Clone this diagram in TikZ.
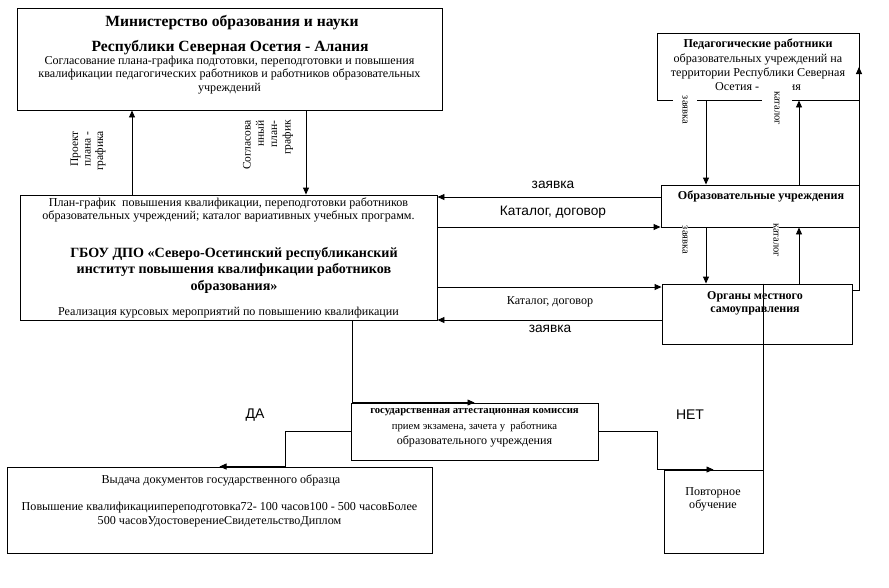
\documentclass[tikz,border=0pt]{standalone}
\usepackage{fontspec}
\setmainfont{Liberation Serif}
\newfontfamily\arialfont{Liberation Sans}
\usetikzlibrary{arrows.meta, positioning}
\tikzset{
    blok/.style={draw, line width=0.9pt, inner sep=0pt},
    strelka/.style={line width=0.9pt, -{Triangle[length=7pt, width=6pt]}},
    linija/.style={line width=0.9pt},
    tekst/.style={inner sep=0pt, align=center, font=\fontsize{12.1}{13.3}\selectfont},
    zag/.style={inner sep=0pt, align=center, font=\bfseries\fontsize{15.6}{16.5}\selectfont},
    podpis/.style={inner sep=0pt, font=\arialfont\fontsize{13.7}{15}\selectfont},
    vert/.style={fill=white, inner sep=0pt, align=center, font=\fontsize{10.5}{11}\selectfont},
}

\begin{document}
\begin{tikzpicture}[x=1pt, y=-1pt]
\useasboundingbox (0,0) rectangle (889,587);
\node[blok, minimum width=425pt, minimum height=102pt] (min) at (229.5,59) {};
\node[blok, minimum width=417pt, minimum height=125pt] (gbou) at (228.5,257.5) {};
\node[blok, minimum width=202pt, minimum height=67pt] (ped) at (758,66.5) {};
\node[blok, minimum width=198pt, minimum height=42pt] (ou) at (760,206) {};
\node[blok, minimum width=190pt, minimum height=60pt] (org) at (757,314) {};
\node[blok, minimum width=247pt, minimum height=57pt] (kom) at (474.5,431.5) {};
\node[blok, minimum width=425pt, minimum height=86pt] (vyd) at (219.5,510) {};
\node[blok, minimum width=99pt, minimum height=83pt] (povt) at (713.5,511.5) {};

\node[zag] (minT1) at (232,23) {Министерство образования и науки};
\node[zag] (minT2) at (230,48) {Республики Северная Осетия - Алания};
\node[tekst] (minT3) at (229.5,75) {Согласование плана-графика подготовки, переподготовки и повышения\\квалификации педагогических работников и работников образовательных\\учреждений};

\node[tekst] (gbouT1) at (228.5,210) {План-график \ повышения квалификации, переподготовки работников\\образовательных учреждений; каталог вариативных учебных программ.};
\node[zag, font=\bfseries\fontsize{14.1}{16.5}\selectfont] (gbouT2) at (234,270) {ГБОУ ДПО «Северо-Осетинский республиканский\\институт повышения квалификации работников\\образования»};
\node[tekst] (gbouT3) at (228.5,313) {Реализация курсовых мероприятий по повышению квалификации};

\node[tekst, font=\bfseries\fontsize{12.1}{13}\selectfont] (pedT1) at (758,44) {Педагогические работники};
\node[tekst, font=\fontsize{12.1}{14}\selectfont] (pedT2) at (758,72) {образовательных учреждений на\\территории Республики Северная\\Осетия - Алания};

\node[tekst, font=\bfseries\fontsize{12.1}{13}\selectfont] (ouT) at (761,196) {Образовательные учреждения};
\node[tekst, font=\bfseries\fontsize{12}{13.5}\selectfont] (orgT) at (755,303.5) {Органы местного\\самоуправления};

\node[tekst, font=\bfseries\fontsize{10.7}{12}\selectfont] (komT1) at (474.5,412) {государственная аттестационная комиссия};
\node[tekst, font=\fontsize{10.7}{12}\selectfont] (komT2) at (474.5,427) {прием экзамена, зачета у \ работника};
\node[tekst] (komT3) at (474.5,441) {образовательного учреждения};

\node[tekst] (vydT1) at (221,480) {Выдача документов государственного образца};
\node[tekst] (vydT2) at (219.5,514.5) {Повышение квалификациипереподготовка72- 100 часов100 - 500 часовБолее\\500 часовУдостоверениеСвидетельствоДиплом};

\node[tekst] (povtT) at (713,499.5) {Повторное\\обучение};

\draw[strelka] (gbou.north -| 132,0) -- (min.south -| 132,0);
\draw[strelka] (min.south -| 306,0) -- (gbou.north -| 306,0);
\draw[strelka] (ou.west |- 0,197) -- (gbou.east |- 0,197);
\draw[strelka] (gbou.east |- 0,227) -- (ou.west |- 0,227);
\draw[strelka] (gbou.east |- 0,287) -- (org.west |- 0,287);
\draw[strelka] (org.west |- 0,320) -- (gbou.east |- 0,320);
\draw[strelka] (ped.south -| 706,0) -- (ou.north -| 706,0);
\draw[strelka] (ou.north -| 799,0) -- (ped.south -| 799,0);
\draw[strelka] (ou.south -| 706,0) -- (org.north -| 706,0);
\draw[strelka] (org.north -| 799,0) -- (ou.south -| 799,0);
\coordinate (pedvhod) at (859,67);
\draw[strelka] (org.east |- 0,290) -| (pedvhod);
\draw[strelka] (gbou.south -| 352,0) |- (kom.north);
\coordinate (da) at (285,431.5);
\coordinate (net) at (657,431.5);
\draw[strelka] (kom.west) -- (da) |- (vyd.north);
\draw[strelka] (kom.east) -- (net) |- (povt.north);
\draw[linija] (org.north -| povt.east) -- (povt.north east);

\node[vert, align=right, rotate=90, anchor=east, font=\fontsize{11.5}{12.5}\selectfont] (proekt) at (88,131) {Проект\\плана -\\графика};
\node[vert, align=right, rotate=90, anchor=east, font=\fontsize{11.5}{13.3}\selectfont] (soglas) at (268,120) {Согласова\\нный\\план-\\график};
\node[podpis] (zajavka1) at (553,185) {заявка};
\node[podpis] (katalog1) at (553,212) {Каталог, договор};
\node[tekst] (katalog2) at (550,302) {Каталог, договор};
\node[podpis] (zajavka2) at (550,329) {заявка};
\node[vert, rotate=-90, minimum width=40pt, minimum height=24pt] (zajavka3) at (685,110) {заявка};
\node[vert, rotate=-90, minimum width=56pt, minimum height=30pt] (katalog3) at (777,108) {каталог};
\node[vert, rotate=-90] (zajavka4) at (685,240) {заявка};
\node[vert, rotate=-90] (katalog4) at (776,240) {каталог};
\node[podpis, font=\arialfont\fontsize{14}{15}\selectfont] (daT) at (255,415) {ДА};
\node[podpis, font=\arialfont\fontsize{14}{15}\selectfont] (netT) at (690,415) {НЕТ};
\end{tikzpicture}
\end{document}
